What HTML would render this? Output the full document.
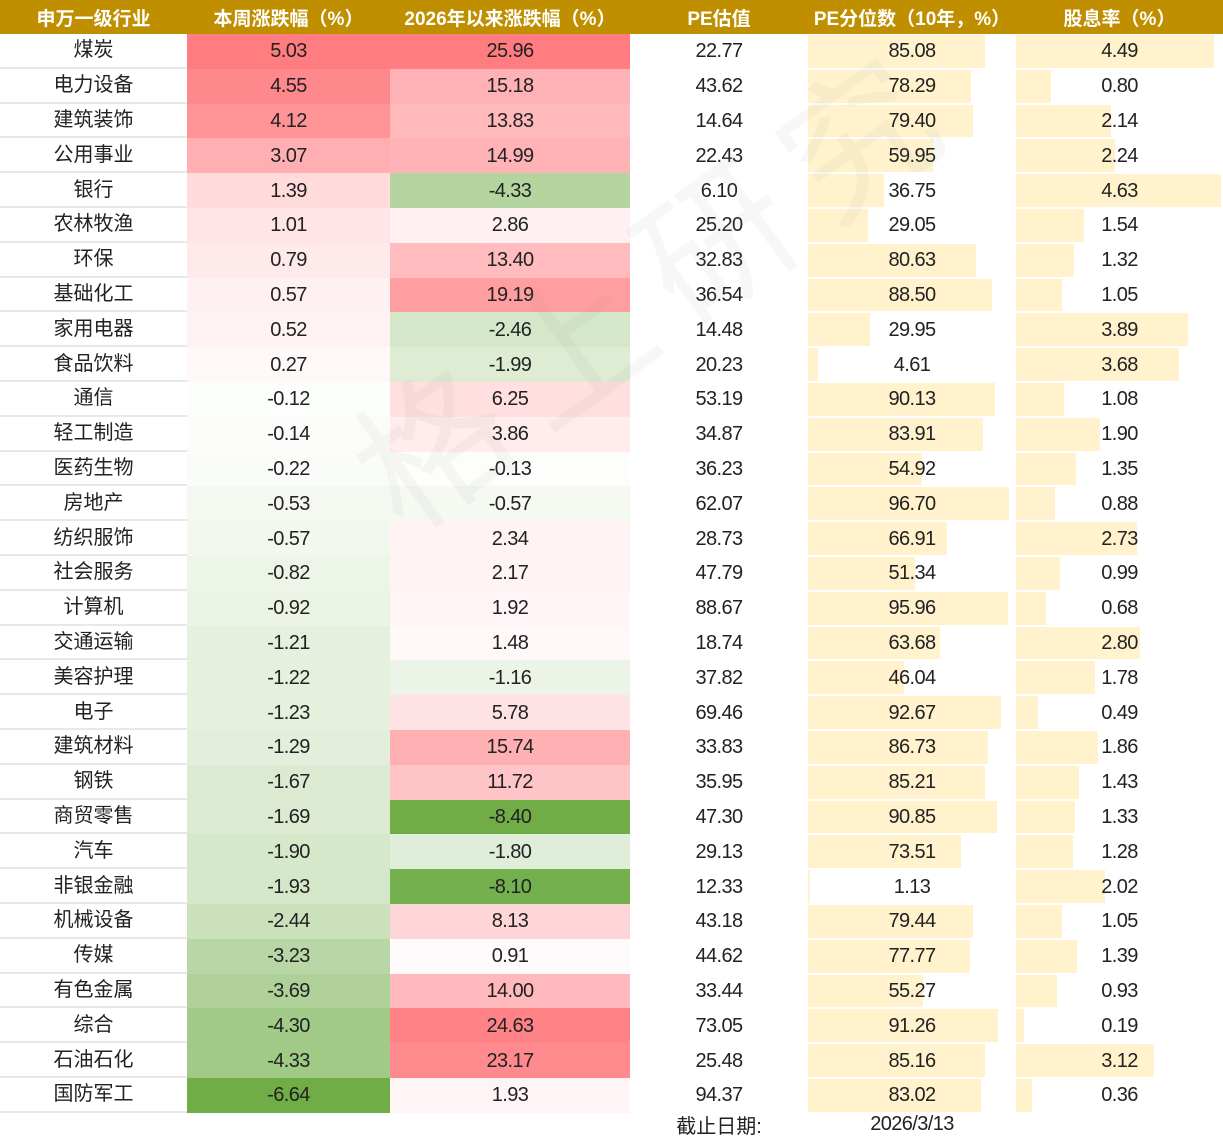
<!DOCTYPE html>
<html><head><meta charset="utf-8"><style>
*{margin:0;padding:0;box-sizing:border-box}
body{width:1223px;height:1139px;background:#fff;position:relative;overflow:hidden;font-family:"Liberation Sans Narrow","Liberation Sans","Noto Sans CJK SC",sans-serif;font-size:20px;color:#222;letter-spacing:-0.6px}
.h{position:absolute;left:0;top:0;width:1223px;height:34px;background:#bf8f00;display:flex;color:#fff;font-weight:bold;font-size:19px;font-family:"Liberation Sans","Noto Sans CJK SC",sans-serif;letter-spacing:0}
.h div{display:flex;align-items:center;justify-content:center}
#rows{position:absolute;left:0;top:34px;width:1223px;height:1079px;display:grid;grid-template-rows:repeat(31,34.8px)}
.r{height:34.8px;display:flex;position:relative;overflow:hidden;line-height:20px}
.r>div{position:relative;display:flex;align-items:center;justify-content:center;height:34.8px}
.c1{width:187px;border-bottom:2px solid #e8e8e8;font-family:"Liberation Sans","Noto Sans CJK SC",sans-serif;letter-spacing:0}
.c2{width:203px}.c3{width:240px}.c4{width:178px}.c5{width:208px}.c6{width:207px}
.b{position:absolute;left:0;top:1px;bottom:1px;background:#fff2cc}
.c5 span,.c6 span{position:relative}
.f{position:absolute;top:1111px;height:26px;display:flex;align-items:center;justify-content:center}
.wm{position:absolute;left:300px;top:170px;font-size:150px;letter-spacing:25px;color:rgba(150,150,150,0.08);transform:rotate(-36deg);transform-origin:center;font-family:"Noto Sans CJK SC",sans-serif;white-space:nowrap;pointer-events:none}
</style></head><body>
<div class="h"><div style="width:187px">申万一级行业</div><div style="width:203px">本周涨跌幅（%）</div><div style="width:240px">2026年以来涨跌幅（%）</div><div style="width:178px">PE估值</div><div style="width:208px">PE分位数（10年，%）</div><div style="width:207px">股息率（%）</div></div>
<div id="rows">
<div class="r"><div class="c1">煤炭</div><div class="c2" style="background:rgb(255,124,128)">5.03</div><div class="c3" style="background:rgb(255,124,128)">25.96</div><div class="c4">22.77</div><div class="c5"><i class="b" style="width:177px"></i><span>85.08</span></div><div class="c6"><i class="b" style="width:198px"></i><span>4.49</span></div></div>
<div class="r"><div class="c1">电力设备</div><div class="c2" style="background:rgb(255,136,140)">4.55</div><div class="c3" style="background:rgb(255,178,181)">15.18</div><div class="c4">43.62</div><div class="c5"><i class="b" style="width:163px"></i><span>78.29</span></div><div class="c6"><i class="b" style="width:35px"></i><span>0.80</span></div></div>
<div class="r"><div class="c1">建筑装饰</div><div class="c2" style="background:rgb(255,148,151)">4.12</div><div class="c3" style="background:rgb(255,185,187)">13.83</div><div class="c4">14.64</div><div class="c5"><i class="b" style="width:165px"></i><span>79.40</span></div><div class="c6"><i class="b" style="width:95px"></i><span>2.14</span></div></div>
<div class="r"><div class="c1">公用事业</div><div class="c2" style="background:rgb(255,175,177)">3.07</div><div class="c3" style="background:rgb(255,179,182)">14.99</div><div class="c4">22.43</div><div class="c5"><i class="b" style="width:125px"></i><span>59.95</span></div><div class="c6"><i class="b" style="width:99px"></i><span>2.24</span></div></div>
<div class="r"><div class="c1">银行</div><div class="c2" style="background:rgb(255,219,220)">1.39</div><div class="c3" style="background:rgb(181,213,160)">-4.33</div><div class="c4">6.10</div><div class="c5"><i class="b" style="width:76px"></i><span>36.75</span></div><div class="c6"><i class="b" style="width:205px"></i><span>4.63</span></div></div>
<div class="r"><div class="c1">农林牧渔</div><div class="c2" style="background:rgb(255,229,230)">1.01</div><div class="c3" style="background:rgb(255,241,241)">2.86</div><div class="c4">25.20</div><div class="c5"><i class="b" style="width:60px"></i><span>29.05</span></div><div class="c6"><i class="b" style="width:68px"></i><span>1.54</span></div></div>
<div class="r"><div class="c1">环保</div><div class="c2" style="background:rgb(255,234,235)">0.79</div><div class="c3" style="background:rgb(255,187,189)">13.40</div><div class="c4">32.83</div><div class="c5"><i class="b" style="width:168px"></i><span>80.63</span></div><div class="c6"><i class="b" style="width:58px"></i><span>1.32</span></div></div>
<div class="r"><div class="c1">基础化工</div><div class="c2" style="background:rgb(255,240,241)">0.57</div><div class="c3" style="background:rgb(255,158,161)">19.19</div><div class="c4">36.54</div><div class="c5"><i class="b" style="width:184px"></i><span>88.50</span></div><div class="c6"><i class="b" style="width:46px"></i><span>1.05</span></div></div>
<div class="r"><div class="c1">家用电器</div><div class="c2" style="background:rgb(255,242,242)">0.52</div><div class="c3" style="background:rgb(213,231,201)">-2.46</div><div class="c4">14.48</div><div class="c5"><i class="b" style="width:62px"></i><span>29.95</span></div><div class="c6"><i class="b" style="width:172px"></i><span>3.89</span></div></div>
<div class="r"><div class="c1">食品饮料</div><div class="c2" style="background:rgb(255,248,248)">0.27</div><div class="c3" style="background:rgb(221,236,211)">-1.99</div><div class="c4">20.23</div><div class="c5"><i class="b" style="width:10px"></i><span>4.61</span></div><div class="c6"><i class="b" style="width:163px"></i><span>3.68</span></div></div>
<div class="r"><div class="c1">通信</div><div class="c2" style="background:rgb(252,254,252)">-0.12</div><div class="c3" style="background:rgb(255,223,224)">6.25</div><div class="c4">53.19</div><div class="c5"><i class="b" style="width:187px"></i><span>90.13</span></div><div class="c6"><i class="b" style="width:48px"></i><span>1.08</span></div></div>
<div class="r"><div class="c1">轻工制造</div><div class="c2" style="background:rgb(252,253,251)">-0.14</div><div class="c3" style="background:rgb(255,236,236)">3.86</div><div class="c4">34.87</div><div class="c5"><i class="b" style="width:175px"></i><span>83.91</span></div><div class="c6"><i class="b" style="width:84px"></i><span>1.90</span></div></div>
<div class="r"><div class="c1">医药生物</div><div class="c2" style="background:rgb(250,252,249)">-0.22</div><div class="c3" style="background:rgb(253,254,252)">-0.13</div><div class="c4">36.23</div><div class="c5"><i class="b" style="width:114px"></i><span>54.92</span></div><div class="c6"><i class="b" style="width:60px"></i><span>1.35</span></div></div>
<div class="r"><div class="c1">房地产</div><div class="c2" style="background:rgb(244,248,240)">-0.53</div><div class="c3" style="background:rgb(245,249,242)">-0.57</div><div class="c4">62.07</div><div class="c5"><i class="b" style="width:201px"></i><span>96.70</span></div><div class="c6"><i class="b" style="width:39px"></i><span>0.88</span></div></div>
<div class="r"><div class="c1">纺织服饰</div><div class="c2" style="background:rgb(243,248,239)">-0.57</div><div class="c3" style="background:rgb(255,243,244)">2.34</div><div class="c4">28.73</div><div class="c5"><i class="b" style="width:139px"></i><span>66.91</span></div><div class="c6"><i class="b" style="width:121px"></i><span>2.73</span></div></div>
<div class="r"><div class="c1">社会服务</div><div class="c2" style="background:rgb(237,245,232)">-0.82</div><div class="c3" style="background:rgb(255,244,244)">2.17</div><div class="c4">47.79</div><div class="c5"><i class="b" style="width:107px"></i><span>51.34</span></div><div class="c6"><i class="b" style="width:44px"></i><span>0.99</span></div></div>
<div class="r"><div class="c1">计算机</div><div class="c2" style="background:rgb(235,244,229)">-0.92</div><div class="c3" style="background:rgb(255,245,246)">1.92</div><div class="c4">88.67</div><div class="c5"><i class="b" style="width:200px"></i><span>95.96</span></div><div class="c6"><i class="b" style="width:30px"></i><span>0.68</span></div></div>
<div class="r"><div class="c1">交通运输</div><div class="c2" style="background:rgb(229,240,222)">-1.21</div><div class="c3" style="background:rgb(255,248,248)">1.48</div><div class="c4">18.74</div><div class="c5"><i class="b" style="width:132px"></i><span>63.68</span></div><div class="c6"><i class="b" style="width:124px"></i><span>2.80</span></div></div>
<div class="r"><div class="c1">美容护理</div><div class="c2" style="background:rgb(229,240,221)">-1.22</div><div class="c3" style="background:rgb(235,244,230)">-1.16</div><div class="c4">37.82</div><div class="c5"><i class="b" style="width:96px"></i><span>46.04</span></div><div class="c6"><i class="b" style="width:79px"></i><span>1.78</span></div></div>
<div class="r"><div class="c1">电子</div><div class="c2" style="background:rgb(229,240,221)">-1.23</div><div class="c3" style="background:rgb(255,226,227)">5.78</div><div class="c4">69.46</div><div class="c5"><i class="b" style="width:193px"></i><span>92.67</span></div><div class="c6"><i class="b" style="width:22px"></i><span>0.49</span></div></div>
<div class="r"><div class="c1">建筑材料</div><div class="c2" style="background:rgb(227,239,219)">-1.29</div><div class="c3" style="background:rgb(255,176,178)">15.74</div><div class="c4">33.83</div><div class="c5"><i class="b" style="width:180px"></i><span>86.73</span></div><div class="c6"><i class="b" style="width:82px"></i><span>1.86</span></div></div>
<div class="r"><div class="c1">钢铁</div><div class="c2" style="background:rgb(219,234,209)">-1.67</div><div class="c3" style="background:rgb(255,196,198)">11.72</div><div class="c4">35.95</div><div class="c5"><i class="b" style="width:177px"></i><span>85.21</span></div><div class="c6"><i class="b" style="width:63px"></i><span>1.43</span></div></div>
<div class="r"><div class="c1">商贸零售</div><div class="c2" style="background:rgb(219,234,208)">-1.69</div><div class="c3" style="background:rgb(112,173,71)">-8.40</div><div class="c4">47.30</div><div class="c5"><i class="b" style="width:189px"></i><span>90.85</span></div><div class="c6"><i class="b" style="width:59px"></i><span>1.33</span></div></div>
<div class="r"><div class="c1">汽车</div><div class="c2" style="background:rgb(214,232,202)">-1.90</div><div class="c3" style="background:rgb(224,237,216)">-1.80</div><div class="c4">29.13</div><div class="c5"><i class="b" style="width:153px"></i><span>73.51</span></div><div class="c6"><i class="b" style="width:57px"></i><span>1.28</span></div></div>
<div class="r"><div class="c1">非银金融</div><div class="c2" style="background:rgb(213,231,201)">-1.93</div><div class="c3" style="background:rgb(117,176,78)">-8.10</div><div class="c4">12.33</div><div class="c5"><i class="b" style="width:2px"></i><span>1.13</span></div><div class="c6"><i class="b" style="width:89px"></i><span>2.02</span></div></div>
<div class="r"><div class="c1">机械设备</div><div class="c2" style="background:rgb(203,225,187)">-2.44</div><div class="c3" style="background:rgb(255,214,215)">8.13</div><div class="c4">43.18</div><div class="c5"><i class="b" style="width:165px"></i><span>79.44</span></div><div class="c6"><i class="b" style="width:46px"></i><span>1.05</span></div></div>
<div class="r"><div class="c1">传媒</div><div class="c2" style="background:rgb(185,215,166)">-3.23</div><div class="c3" style="background:rgb(255,250,251)">0.91</div><div class="c4">44.62</div><div class="c5"><i class="b" style="width:162px"></i><span>77.77</span></div><div class="c6"><i class="b" style="width:61px"></i><span>1.39</span></div></div>
<div class="r"><div class="c1">有色金属</div><div class="c2" style="background:rgb(175,209,153)">-3.69</div><div class="c3" style="background:rgb(255,184,187)">14.00</div><div class="c4">33.44</div><div class="c5"><i class="b" style="width:115px"></i><span>55.27</span></div><div class="c6"><i class="b" style="width:41px"></i><span>0.93</span></div></div>
<div class="r"><div class="c1">综合</div><div class="c2" style="background:rgb(162,202,136)">-4.30</div><div class="c3" style="background:rgb(255,131,134)">24.63</div><div class="c4">73.05</div><div class="c5"><i class="b" style="width:190px"></i><span>91.26</span></div><div class="c6"><i class="b" style="width:8px"></i><span>0.19</span></div></div>
<div class="r"><div class="c1">石油石化</div><div class="c2" style="background:rgb(162,202,135)">-4.33</div><div class="c3" style="background:rgb(255,138,142)">23.17</div><div class="c4">25.48</div><div class="c5"><i class="b" style="width:177px"></i><span>85.16</span></div><div class="c6"><i class="b" style="width:138px"></i><span>3.12</span></div></div>
<div class="r"><div class="c1">国防军工</div><div class="c2" style="background:rgb(112,173,71)">-6.64</div><div class="c3" style="background:rgb(255,245,246)">1.93</div><div class="c4">94.37</div><div class="c5"><i class="b" style="width:173px"></i><span>83.02</span></div><div class="c6"><i class="b" style="width:16px"></i><span>0.36</span></div></div>
</div>
<div class="f" style="left:630px;width:178px;font-family:'Liberation Sans','Noto Sans CJK SC',sans-serif;letter-spacing:0">截止日期:</div>
<div class="f" style="left:808px;width:208px">2026/3/13</div>
<div class="wm">格上研究</div>
</body></html>
